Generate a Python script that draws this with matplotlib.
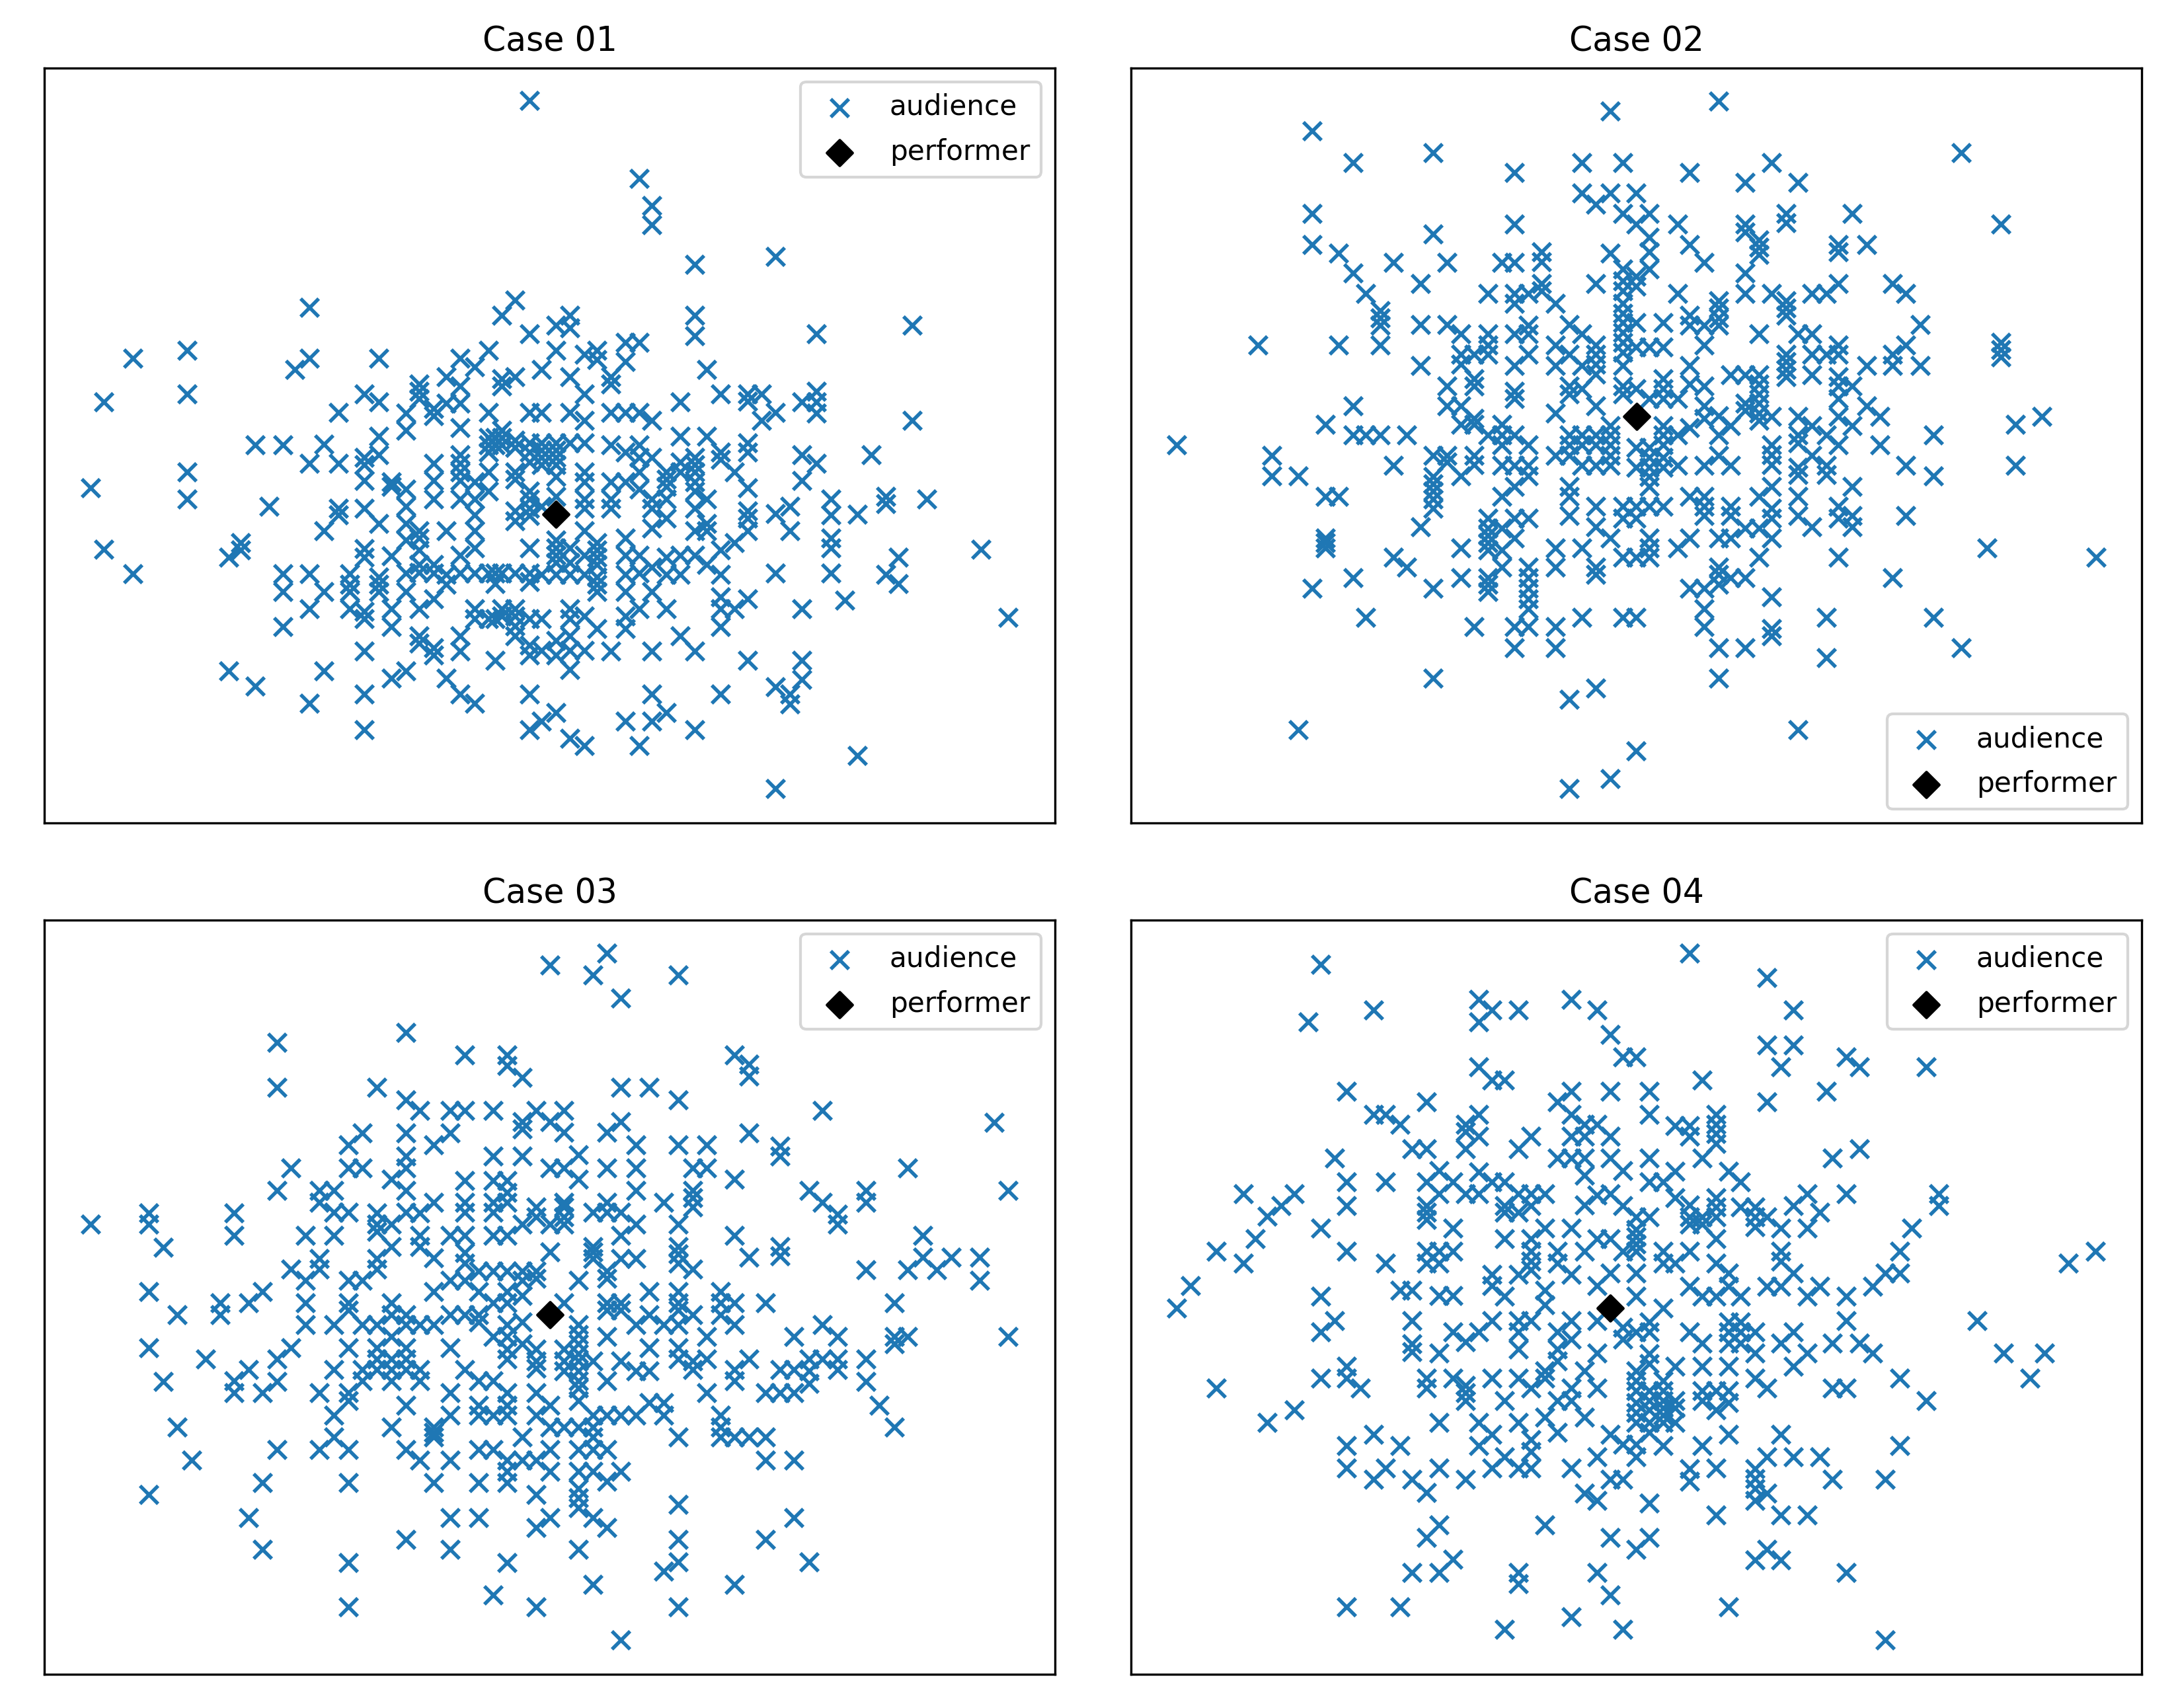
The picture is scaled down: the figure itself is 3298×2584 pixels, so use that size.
import numpy as np
import matplotlib
matplotlib.use('Agg')
import matplotlib.pyplot as plt

W, H = 3298, 2584
DPI = 303

TITLES = ['Case 01', 'Case 02', 'Case 03', 'Case 04']
LEGEND_LOCS = ['upper right', 'lower right', 'upper right', 'upper right']

C1_L_COLS = [150, 191, 276, 438, 560, 595, 638, 680, 722, 757, 800, 842, 885, 920, 963, 1005, 1043, 1085, 1125, 1168,
             1205, 1247, 1290, 1330, 1350, 1370, 1410, 1452]
C1_L_ROWS = [[862], [687, 988], [598, 1038], [582, 670, 830, 885], [1005, 1237], [975, 990], [775, 1268], [900],
             [775, 1038, 1075, 1147], [620], [493, 598, 812, 1038, 1110, 1303], [773, 950, 1075, 1237],
             [708, 812, 905, 918], [1038, 1060, 1075, 1110],
             [670, 800, 815, 848, 905, 987, 1005, 1115, 1130, 1197, 1285, 1358],
             [598, 687, 757, 795, 935, 1045, 1060, 1075], [850, 860, 1002, 1110, 1147, 1252],
             [710, 745, 865, 900, 935, 970, 1037, 1075, 1237],
             [650, 665, 680, 950, 965, 990, 1020, 1035, 1110, 1165, 1180],
             [700, 715, 812, 848, 885, 1020, 1037, 1090, 1190, 1205], [635, 690, 950, 1040, 1060, 1252],
             [598, 655, 690, 740, 795, 812, 830, 848, 885, 1000, 1037, 1165, 1197, 1285],
             [615, 850, 885, 918, 950, 985, 1037, 1110, 1130, 1303], [582, 708, 760, 775, 790, 830, 870, 1037, 1130],
             [760, 775, 1037, 1058, 1215, 1130], [510, 640, 655, 745, 760, 775, 1037, 1110, 1125],
             [478, 635, 765, 780, 830, 845, 910, 930, 1037, 1110, 1125, 1145, 1165],
             [70, 548, 708, 770, 790, 810, 870, 885, 905, 920, 985, 1037, 1055, 1130, 1185, 1205, 1285, 1358]]
C1_R_COLS = [37, 80, 120, 163, 200, 240, 283, 323, 360, 402, 443, 485, 520, 562, 603, 640, 682, 722, 765, 800, 843,
             885, 925, 962, 1003, 1045, 1082, 1123, 1165, 1325, 1403]
C1_R_ROWS = [[620, 708, 770, 785, 800, 815, 900, 1040, 1130, 1195, 1340],
             [530, 582, 770, 785, 800, 815, 840, 880, 970, 985, 1000, 1015, 1040, 1175, 1205, 1322],
             [510, 535, 635, 708, 770, 985, 1015, 1040, 1110, 1130, 1165, 1195, 1235, 1375],
             [590, 670, 725, 770, 830, 850, 885, 905, 950, 1000, 1040, 1125, 1195, 1390],
             [582, 600, 975, 990, 1005, 1020, 1045, 1060, 1075, 1150], [635, 650, 708, 775, 850, 885, 905, 1197],
             [565, 605, 708, 790, 850, 965, 1000, 1040, 1075, 1125, 1150, 1340],
             [230, 565, 708, 775, 800, 830, 865, 1000, 1037, 1110, 1390],
             [285, 325, 725, 800, 885, 905, 945, 1025, 1075, 1197, 1285, 1340],
             [830, 845, 860, 885, 925, 1005, 1040, 1110, 1322], [687, 757, 810, 830, 1000, 1040, 1165],
             [405, 510, 552, 800, 815, 830, 850, 870, 905, 950, 1000, 1197, 1358], [620, 757, 885, 935, 950, 1020],
             [670, 790, 805, 990, 1040, 1085, 1110, 1147, 1285], [830, 975, 1110],
             [670, 685, 770, 790, 862, 910, 925, 950, 1090, 1215], [670, 725], [390, 708, 915, 1037, 1270, 1478],
             [900, 950, 1285, 1305], [687, 795, 848, 1110, 1215, 1255], [548, 665, 687, 710, 812],
             [885, 918, 965, 985, 1037], [1092], [917, 1410], [795], [880, 895, 1040], [1005, 1058], [530, 725], [885],
             [988], [1127]]

C2_L_COLS = [140, 387, 430, 510, 553, 592, 633, 677, 715, 760, 800, 840, 882, 920, 962, 1005, 1045, 1087, 1130, 1168,
             1210, 1250, 1292, 1335, 1372, 1415, 1460, 1497]
C2_L_ROWS = [[775], [570], [797, 838], [838, 1358], [133, 302, 365, 1068], [733, 880, 965, 975, 985], [382, 570, 880],
             [197, 423, 695, 755, 1047], [465, 755, 1127], [500, 515, 530, 570, 755], [402, 817, 1005], [755, 1025],
             [445, 528, 612, 942], [177, 343, 797, 840, 855, 870, 885, 905, 1068, 1252], [402, 528, 655, 695, 797, 810],
             [548, 590, 610, 695, 733, 838, 985, 1047], [590, 640, 655, 720, 733, 797, 815, 1147],
             [465, 548, 570, 590, 755, 925, 945, 960, 975, 990, 1047, 1060, 1075],
             [402, 733, 755, 775, 817, 880, 945, 990, 1025],
             [217, 323, 402, 465, 485, 548, 612, 665, 680, 755, 817, 860, 925, 965, 1147, 1190],
             [465, 530, 548, 590, 775, 817, 838, 925, 1025, 1047, 1068, 1090, 1110, 1147], [380, 400, 445, 460],
             [485, 570, 612, 710, 797, 985, 1025, 1147, 1190],
             [528, 590, 655, 670, 755, 775, 797, 860, 880, 920, 1295, 1478],
             [197, 260, 548, 612, 660, 755, 775, 817, 985, 1127],
             [282, 445, 570, 590, 610, 630, 695, 755, 775, 817, 900, 942, 1025, 1040, 1272],
             [92, 260, 382, 735, 755, 775, 797, 817, 965, 1458],
             [197, 302, 415, 440, 460, 485, 505, 525, 545, 565, 585, 612, 655, 670, 900, 925, 1005, 1127]]
C2_R_COLS = [48, 87, 127, 170, 205, 248, 290, 325, 367, 408, 445, 487, 523, 563, 605, 640, 682, 725, 762, 800, 838,
             880, 920, 1000, 1077, 1118, 1160, 1238, 1395]
C2_R_ROWS = [[260, 323, 430, 450, 525, 575, 660, 780, 820, 900, 925, 1005, 1127, 1400],
             [302, 350, 380, 415, 575, 680, 780, 800, 820, 840, 860, 900, 965, 985, 1005],
             [525, 575, 640, 660, 680, 735, 755, 775, 800, 820, 900], [323, 465, 680, 755, 817, 985],
             [217, 365, 510, 530, 612, 650, 740, 880, 965, 1068],
             [402, 530, 570, 655, 695, 720, 817, 880, 900, 920, 1068, 1110, 1147],
             [72, 480, 495, 515, 530, 715, 755, 797, 965, 1025, 1040, 1060, 1190, 1252],
             [632, 735, 817, 900, 920, 965, 1047], [238, 323, 340, 423, 465, 632, 690, 705, 945, 1047, 1190],
             [355, 370, 385, 548, 632, 650, 670, 690, 710, 725, 880, 945, 1005],
             [197, 465, 717, 775, 795, 815, 860, 905, 925, 965, 1085, 1150, 1165],
             [302, 320, 480, 495, 510, 590, 605, 620, 635], [238, 548, 717, 755, 770, 820, 835, 880, 920, 1358],
             [465, 548, 590, 632, 735, 797, 942], [465, 590, 755, 817, 835, 1127, 1210],
             [365, 380, 445, 570, 590, 635, 655, 680, 717, 775, 900, 925, 1005], [302, 655, 735, 860, 920, 942],
             [365, 612, 695], [717, 775], [445, 590, 612, 1047], [465, 570, 817, 920], [528, 612], [755, 838, 1127],
             [177, 1190], [985], [323, 565, 580, 595], [733, 817], [717], [1005]]

C3_L_COLS = [150, 323, 367, 408, 450, 492, 535, 577, 620, 660, 703, 745, 787, 830, 872, 915, 957, 1000, 1042, 1085,
             1127, 1168, 1217, 1260, 1302, 1345, 1385, 1430]
C3_L_ROWS = [[625], [602, 625, 763, 877, 1178], [672, 947], [810, 1040], [1107], [900], [785, 810],
             [602, 647, 945, 970], [785, 922, 1225], [763, 970, 1153, 1290], [253, 345, 555, 900, 947, 1085],
             [510, 717, 877], [647, 740, 785, 830], [555, 580, 695, 717, 970, 1085],
             [555, 600, 647, 830, 922, 1015, 1060], [462, 510, 600, 740, 785, 800, 877, 970, 985, 1085, 1153, 1317, 1408],
             [438, 510, 740, 830, 922, 945], [345, 602, 625, 640, 695, 717, 830, 877, 900, 922],
             [533, 625, 670, 785, 810, 855, 900, 922, 945, 1040],
             [232, 370, 438, 485, 510, 555, 600, 810, 830, 877, 900, 922, 995, 1085, 1270],
             [392, 602, 647, 670, 830, 922, 945, 1107], [462, 580, 693, 763, 830, 1040, 1050, 1060, 1153],
             [392, 438, 647, 740, 810, 877, 970, 1015, 1107, 1225, 1290],
             [278, 392, 535, 580, 600, 647, 683, 705, 740, 810, 922],
             [720, 763, 810, 825, 945, 995, 1015, 1085, 1153, 1225],
             [392, 485, 535, 580, 600, 647, 720, 785, 855, 945, 1015, 1085, 1383],
             [278, 300, 535, 560, 580, 647, 720, 763, 785, 830, 855, 880, 900, 970, 995, 1015, 1107, 1130, 1153, 1317],
             [325, 415, 430, 485, 625, 720, 740, 770, 825, 870, 1060, 1107]]
C3_R_COLS = [22, 62, 103, 145, 187, 228, 270, 313, 353, 395, 437, 480, 520, 562, 603, 645, 693, 735, 777, 820, 860,
             905, 987, 1027, 1070, 1110, 1153, 1195, 1238, 1320, 1362, 1403]
C3_R_ROWS = [[392, 590, 610, 720, 735, 880, 905, 920, 970, 1015, 1107, 1178, 1245, 1408],
             [95, 415, 510, 625, 682, 995, 1040, 1085, 1130, 1225],
             [392, 437, 510, 580, 590, 610, 625, 785, 880, 905, 925, 1040],
             [482, 533, 740, 830, 850, 870, 890, 905, 925, 945, 960, 985, 1040, 1085, 1130, 1165, 1185, 1205, 1290],
             [115, 600, 670, 682, 695, 905, 1015, 1040, 1060, 1085, 1130, 1225, 1362],
             [70, 437, 510, 580, 600, 720, 735, 785, 800, 855, 945, 1015, 1085, 1150, 1245],
             [162, 345, 415, 600, 647, 695, 785, 800, 905, 1015, 1130, 1475], [462, 510, 555, 625, 695, 830, 925, 1015],
             [345, 763, 810, 877, 925, 990], [580, 830, 990, 1015, 1335],
             [115, 370, 462, 625, 670, 685, 705, 763, 785, 800, 830, 877, 900, 1060, 1198, 1270, 1315, 1408],
             [510, 555, 570, 590, 717, 810, 905, 922], [462, 510, 855, 900, 970], [763, 785, 810, 1015, 1040, 1060],
             [278, 533, 647, 785, 830, 922, 945, 1060, 1362], [298, 322, 438, 692, 900, 1060],
             [785, 970, 1060, 1107, 1270], [465, 485, 670, 690, 922, 970], [855, 922, 970, 1107, 1225],
             [555, 900, 925, 950, 1315], [392, 580, 830, 900], [605, 625, 855, 900, 922], [555, 580, 718, 900, 947],
             [995], [785, 855, 870, 1040], [510, 718, 855], [647, 692], [718], [692], [692, 740], [417], [555, 855]]

C4_L_COLS = [140, 182, 262, 343, 380, 417, 458, 498, 540, 578, 622, 658, 700, 740, 775, 820, 857, 900, 938, 980, 1020,
             1060, 1100, 1137, 1180, 1218, 1260, 1298, 1340, 1380, 1420, 1460, 1497]
C4_L_ROWS = [[797], [750], [680, 960], [563, 705], [655], [608, 1030], [587], [563, 1005], [211],
             [93, 633, 772, 845, 940], [490, 822], [353, 538, 587, 680, 915, 940, 1077, 1123, 1408], [960],
             [187, 400, 1055, 1147], [400, 538, 705, 1123], [420, 760, 1077, 1408], [470, 760, 822, 870, 885, 1147, 1337],
             [375, 470, 538, 587, 600, 615, 680, 705, 940, 960, 1173, 1265],
             [515, 563, 680, 705, 770, 888, 1030, 1123, 1240, 1337], [538, 633, 680, 770, 845, 940, 1310],
             [420, 435, 470, 563, 865, 955, 970, 985, 1147], [165, 211, 303, 400, 445, 518, 563, 845, 1030, 1077],
             [187, 330, 538, 728, 750, 822, 940, 1055, 1123], [330, 538, 587, 600, 655, 772, 985, 1100, 1453],
             [187, 470, 563, 600, 728, 822, 845, 880, 940, 1030, 1123, 1337, 1360],
             [445, 563, 587, 655, 680, 700, 718, 822, 960, 1065, 1090, 1123], [563, 633, 760, 790, 925, 940, 1020, 1240],
             [375, 490, 680, 705, 845, 880, 905, 985, 1050], [165, 353, 400, 445, 490, 633, 728, 822, 860, 960, 985, 1123, 1428],
             [420, 445, 490, 525, 585, 680, 925, 1020, 1175], [187, 420, 565, 655, 750, 822, 888, 960, 1100, 1190, 1337],
             [237, 353, 445, 490, 563, 655, 725, 1055, 1147, 1265, 1383],
             [283, 515, 587, 680, 835, 860, 1075, 1147, 1453]]
C4_R_COLS = [48, 87, 127, 163, 205, 242, 283, 320, 355, 397, 432, 473, 510, 550, 587, 605, 623, 665, 702, 742, 778,
             820, 855, 898, 935, 1047, 1125, 1203, 1245, 1315, 1393]
C4_R_ROWS = [[283, 610, 635, 650, 665, 680, 725, 772, 845, 925, 945, 965, 990, 1010, 1030, 1075, 1100, 1290],
             [353, 400, 490, 538, 610, 825, 845, 890, 910, 965, 985, 1005, 1030, 1050, 1195, 1265],
             [538, 680, 705, 797, 945, 965, 985, 1000, 1015, 1030, 1077], [423, 517, 570, 705, 915, 985, 1000, 1030],
             [70, 423, 445, 585, 610, 625, 680, 752, 845, 1125, 1150],
             [330, 490, 610, 625, 772, 868, 915, 965, 985, 1077],
             [400, 420, 440, 460, 570, 590, 610, 655, 705, 772, 965, 1005, 1123, 1220],
             [517, 725, 752, 825, 845, 868, 915, 965, 990, 1055, 1408], [538, 590, 772, 825, 845, 868],
             [590, 610, 630, 845, 888, 940, 1125, 1145, 1165, 1190, 1312],
             [120, 258, 375, 610, 752, 960, 1100, 1175, 1290], [303, 633, 680, 700, 752, 868, 1055, 1220, 1312],
             [187, 258, 587, 725, 845, 915, 1100], [563, 633, 772, 888, 1220], [600, 752, 1100], [353],
             [490, 868, 960, 1147], [283, 563, 772, 822, 960, 1337], [303, 470, 868], [752, 888], [725, 1147, 1475],
             [680, 725, 940, 1077], [633], [303, 985], [563, 587], [822], [888], [940], [888], [705], [680]]

# performer position, crop units: (x, y) and whether it was read in the left crop
PERF_X = [80, 50, 62, 1460]
PERF_Y = [917, 717, 810, 797]
PERF_IN_LEFT = [False, False, False, True]

# crop origins and enlargement, and the axes edges, all in full image pixels
LEFT_ORIGIN = [60, 1710, 60, 1710]
RIGHT_ORIGIN = [800, 2450, 800, 2450]
TOP_ORIGIN = [100, 100, 1390, 1390]
LEFT_SCALE = [1.96, 2.01, 1.96, 2.01]
RIGHT_SCALE = [1.936, 1.936, 1.936, 1.936]
Y_SCALE = 1.352
X_EDGES = [(67, 1596), (1711, 3240), (67, 1596), (1711, 3240)]
Y_EDGES = [(103, 1245), (103, 1245), (1392, 2533), (1392, 2533)]

LEFT_COLS = [C1_L_COLS, C2_L_COLS, C3_L_COLS, C4_L_COLS]
LEFT_ROWS = [C1_L_ROWS, C2_L_ROWS, C3_L_ROWS, C4_L_ROWS]
RIGHT_COLS = [C1_R_COLS, C2_R_COLS, C3_R_COLS, C4_R_COLS]
RIGHT_ROWS = [C1_R_ROWS, C2_R_ROWS, C3_R_ROWS, C4_R_ROWS]


def flatten(cols, rows, x0, xs, y0):
    x = [x0 + c / xs for c, r in zip(cols, rows) for _ in r]
    y = [y0 + v / Y_SCALE for r in rows for v in r]
    return x, y


fig = plt.figure(figsize=(W / DPI, H / DPI), dpi=DPI)

for i, title in enumerate(TITLES):
    x_lo, x_hi = X_EDGES[i]
    y_lo, y_hi = Y_EDGES[i]
    ax = fig.add_axes([x_lo / W, 1 - y_hi / H, (x_hi - x_lo) / W, (y_hi - y_lo) / H])

    x1, y1 = flatten(LEFT_COLS[i], LEFT_ROWS[i], LEFT_ORIGIN[i], LEFT_SCALE[i], TOP_ORIGIN[i])
    x2, y2 = flatten(RIGHT_COLS[i], RIGHT_ROWS[i], RIGHT_ORIGIN[i], RIGHT_SCALE[i], TOP_ORIGIN[i])
    ax.scatter(np.r_[x1, x2], np.r_[y1, y2], marker='x', color='#1f77b4', s=42, linewidths=1.3, label='audience')

    if PERF_IN_LEFT[i]:
        px = LEFT_ORIGIN[i] + PERF_X[i] / LEFT_SCALE[i]
    else:
        px = RIGHT_ORIGIN[i] + PERF_X[i] / RIGHT_SCALE[i]
    py = TOP_ORIGIN[i] + PERF_Y[i] / Y_SCALE
    ax.scatter([px], [py], marker='D', color='black', s=42, label='performer')

    ax.set_xlim(x_lo, x_hi)
    ax.set_ylim(y_hi, y_lo)
    ax.set_xticks([])
    ax.set_yticks([])
    ax.set_title(title)
    ax.legend(loc=LEGEND_LOCS[i], labelspacing=0.62)

fig.savefig('out.png', dpi=DPI)
